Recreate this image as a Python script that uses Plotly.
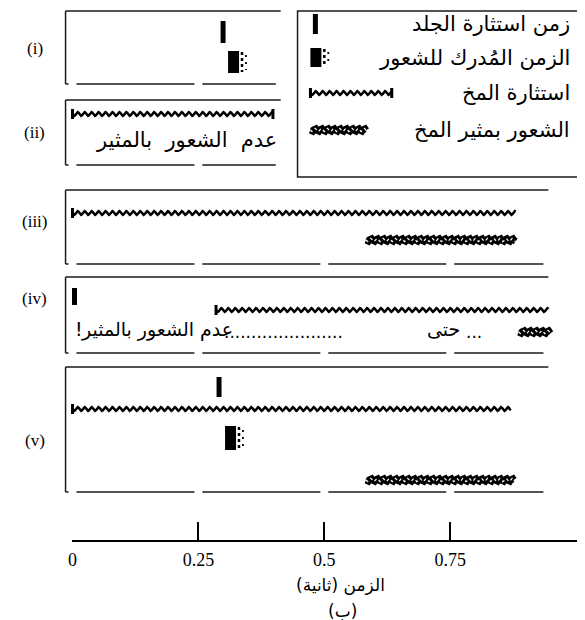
import numpy as np
import plotly.graph_objects as go

# ---- data (times in seconds) ----
panels = ["(i)", "(ii)", "(iii)", "(iv)", "(v)"]
skin_stim = [0.299, None, None, 0.004, 0.291]      # skin stimulus pulse
felt_time = [0.309, None, None, None, 0.303]       # perceived time of the skin sensation
brain_on = [None, 0.0, 0.0, 0.285, 0.0]            # cortical stimulus train start
brain_off = [None, 0.398, 0.880, 0.945, 0.870]     # cortical stimulus train end
sense_on = [None, None, 0.583, 0.886, 0.583]       # sensation of cortical stimulus
sense_off = [None, None, 0.880, 0.949, 0.876]
tick_vals = [0, 0.25, 0.5, 0.75]
tick_text = ["0", "0.25", "0.5", "0.75"]
legend_labels = ["زمن استثارة الجلد", "الزمن المُدرك للشعور", "استثارة المخ", "الشعور بمثير المخ"]
axis_title = "الزمن (ثانية)"

# ---- layout constants (rows in pixels from the top) ----
W, H = 585, 620
X0_PX, PX_PER_S = 60, 508


def sec(p):
    return (p - X0_PX) / PX_PER_S


def dur(p):
    return p / PX_PER_S


BOX_LEFT = sec(53)
box_top = [3, 92, 182, 269, 359]
box_bot = [76, 157, 256, 345, 484]
box_end = [sec(270), sec(270), sec(540), sec(540), sec(540)]
skin_rows = [(13, 35), None, None, (280, 297), (369, 389)]
felt_rows = [(43, 65), None, None, None, (418, 442)]
brain_rows = [None, 106, 205, 302, 401]
sense_rows = [None, None, 232, 324, 472]
label_rows = [40, 124, 213, 290, 432]
AXIS_Y = 533
AR_FONT = "DejaVu Sans"
SERIF = "Liberation Serif"

fig = go.Figure()


def add_line(xs, ys, width, color="black", dash=None):
    fig.add_trace(go.Scatter(x=list(xs), y=list(ys), mode="lines",
                             line=dict(color=color, width=width, dash=dash),
                             hoverinfo="skip", showlegend=False))


def wave(t0, t1, yc, amp=1.8, lam=dur(7)):
    xs = np.append(np.arange(t0, t1, lam / 8), t1)
    ys = yc + amp * np.sin(2 * np.pi * (xs - t0) / lam)
    return xs, ys


def brain_glyph(t0, t1, yc, end_cap=False):
    xs, ys = wave(t0, t1, yc)
    add_line(xs, ys, 2.5)
    add_line([t0, t0], [yc - 5, yc + 5], 3)
    if end_cap:
        add_line([t1, t1], [yc - 5, yc + 5], 3)


def sense_glyph(t0, t1, yc):
    xs, ys = wave(t0, t1, yc, amp=1.6, lam=dur(6.2))
    add_line(xs, ys, 7)
    add_line(xs, ys, 1.2, color="white", dash="dot")


def skin_glyph(t, y0, y1):
    add_line([t, t], [y0, y1], 5)


def felt_glyph(t, y0, y1):
    add_line([t + dur(5.5), t + dur(5.5)], [y0, y1], 11)
    add_line([t + dur(14), t + dur(14)], [y0 + 1, y1 - 1], 2.5, dash="dot")
    add_line([t + dur(18), t + dur(18)], [y0 + 4, y1 - 3], 1.8, dash="2px,5px")


shapes = []
frame = dict(color="#1a1a1a", width=1.5)
gap = dur(4)
for i in range(len(panels)):
    top, bot, end = box_top[i], box_bot[i], box_end[i]
    shapes.append(dict(type="line", xref="x", yref="y", x0=BOX_LEFT, x1=BOX_LEFT, y0=top, y1=bot, line=frame))
    shapes.append(dict(type="line", xref="x", yref="y", x0=BOX_LEFT, x1=end, y0=top, y1=top, line=frame))
    edges = [BOX_LEFT]
    for t in tick_vals:
        if t < end:
            edges += [t - gap, t + gap]
    edges.append(end - dur(5))
    for a, b in zip(edges[0::2], edges[1::2]):
        shapes.append(dict(type="line", xref="x", yref="y", x0=a, x1=b, y0=bot, y1=bot, line=frame))

    if skin_stim[i] is not None:
        skin_glyph(skin_stim[i], *skin_rows[i])
    if felt_time[i] is not None:
        felt_glyph(felt_time[i], *felt_rows[i])
    if brain_on[i] is not None:
        brain_glyph(brain_on[i], brain_off[i], brain_rows[i], end_cap=(i == 1))
    if sense_on[i] is not None:
        sense_glyph(sense_on[i], sense_off[i], sense_rows[i])

# legend box
shapes.append(dict(type="rect", xref="x", yref="y", x0=sec(287), x1=sec(572), y0=3, y1=169,
                   line=frame, fillcolor="rgba(0,0,0,0)"))
leg_rows = [16, 50, 85, 122]
skin_glyph(sec(305), 6, 26)
felt_glyph(sec(300), 40, 59)
brain_glyph(sec(300), sec(382), leg_rows[2], end_cap=True)
sense_glyph(sec(300), sec(356), leg_rows[3])

annotations = []


def note(x, y, text, anchor="center", size=19, family=AR_FONT):
    annotations.append(dict(x=x, y=y, xref="x", yref="y", text=text, showarrow=False,
                            xanchor=anchor, yanchor="middle", borderpad=0,
                            font=dict(family=family, size=size, color="black")))


for lab, y in zip(legend_labels, leg_rows):
    note(sec(563), y, lab, "right", 21)

for lab, y in zip(panels, label_rows):
    note(sec(22), y, lab, "center", 17, SERIF)

# texts inside the panels
note(sec(267), 132, "عدم  الشعور  بالمثير", "right", 21)
note(sec(62), 321, "!", "left", 19)
note(sec(68), 321, "عدم الشعور بالمثير", "left", 19)
note(sec(212), 324, "......................", "left", 17)
note(sec(452), 321, "حتى", "right", 19)
note(sec(456), 324, "...", "left", 17)

# axis title (wrapped in a right-to-left embedding) and figure tag
note(sec(330), 577, "\u202b" + axis_title + "\u202c", "center", 17)
note(sec(332), 603, "(ب)", "center", 17)

# time axis arrow head
add_line([sec(570), sec(579), sec(570)], [AXIS_Y - 6, AXIS_Y, AXIS_Y + 6], 1.5)

# invisible trace to activate the time axis
fig.add_trace(go.Scatter(x=[0], y=[600], xaxis="x2", yaxis="y", mode="markers",
                         marker=dict(opacity=0), hoverinfo="skip", showlegend=False))

fig.update_layout(
    width=W, height=H,
    margin=dict(l=0, r=0, t=0, b=0),
    paper_bgcolor="white", plot_bgcolor="rgba(0,0,0,0)",
    showlegend=False,
    xaxis=dict(range=[sec(0), sec(W)], visible=False, domain=[0, 1], fixedrange=True),
    yaxis=dict(range=[H, 0], visible=False, domain=[0, 1], fixedrange=True),
    xaxis2=dict(domain=[X0_PX / W, 579 / W], range=[0, sec(579)], anchor="free",
                position=1 - AXIS_Y / H, showline=True, linecolor="black", linewidth=1.5,
                ticks="inside", ticklen=18, tickwidth=1.5, tickcolor="black",
                tickvals=tick_vals, ticktext=tick_text, ticklabelstandoff=3,
                tickfont=dict(family=SERIF, size=18, color="black"),
                showgrid=False, zeroline=False, fixedrange=True),
    shapes=shapes,
    annotations=annotations,
)

fig.write_html("out.html")
